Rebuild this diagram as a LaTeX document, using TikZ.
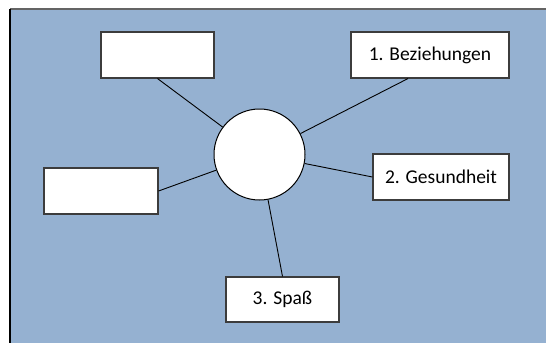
\documentclass[tikz,border=0pt]{standalone}
\usepackage{fontspec}
\setmainfont{Carlito}
\usetikzlibrary{calc}
\definecolor{bgblue}{RGB}{149,177,209}
\definecolor{boxline}{RGB}{60,60,60}
\begin{document}
\begin{tikzpicture}[x=1pt,y=-1pt,
  box/.style={draw=boxline,line width=1.1pt,fill=white,rectangle,minimum height=46pt,inner sep=0pt,font=\fontsize{19.5}{22}\selectfont},
  link/.style={draw=black,line width=0.9pt}]
\useasboundingbox (0,0) rectangle (546,343);
\fill[bgblue] (10,9) rectangle (546,343);
\draw[draw={rgb,255:red,100;green,100;blue,100},line width=1.2pt] (10,9) -- (546,9);
\draw[black,line width=1.2pt] (10,9) -- (10,343);
\node[circle,draw=black,line width=1pt,fill=white,minimum size=91pt,inner sep=0pt] (c) at (259.5,154.5) {};
\node[box,minimum width=113pt] (tl) at (157.5,55) {};
\node[box,minimum width=158pt] (b1) at (430,55) {1. Beziehungen};
\node[box,minimum width=114pt] (lb) at (101,191) {};
\node[box,minimum width=136pt] (b2) at (441,177) {2. Gesundheit};
\node[box,minimum width=113pt,minimum height=45pt] (b3) at (282.5,299.5) {3. Spaß};
\coordinate (b1s) at ($(b1.south)+(-22,0)$);
\draw[link] (tl.south) -- (c);
\draw[link] (b1s) -- (c);
\draw[link] (c) -- (b2.west);
\draw[link] (lb.east) -- (c);
\draw[link] (b3.north) -- (c);
\end{tikzpicture}
\end{document}
